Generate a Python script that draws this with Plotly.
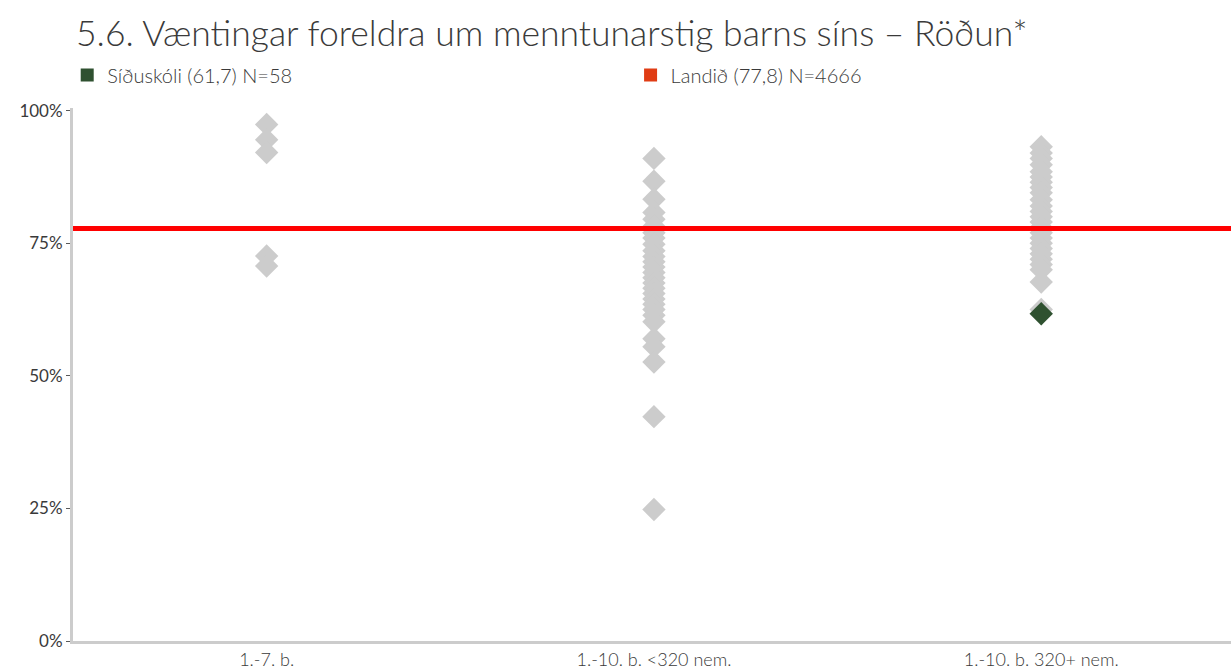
import plotly.graph_objects as go

# ---- data ----
categories = ["1.-7. b.", "1.-10. b. <320 nem.", "1.-10. b. 320+ nem."]

schools_cat1 = [97.4, 94.5, 92.1, 72.6, 70.7]
schools_cat2 = [91.0, 86.7, 83.3, 80.8, 79.5, 78.2, 77.0, 76.0, 74.8, 73.6, 72.5,
                71.5, 70.5, 69.5, 68.5, 67.5, 66.5, 65.5, 64.5, 63.5, 62.5, 61.4,
                60.2, 57.0, 55.5, 52.6, 42.3, 24.8]
schools_cat3 = [93.2, 92.0, 91.0, 89.8, 88.5, 87.5, 86.5, 85.5, 84.5, 83.2, 82.0,
                81.0, 80.0, 79.0, 78.0, 77.0, 76.0, 75.0, 74.0, 73.0, 72.0, 71.0,
                70.0, 67.7, 62.5]

school_name = "Síðuskóli"
school_category = "1.-10. b. 320+ nem."
school_value = 61.7
school_n = 58

national_name = "Landið"
national_value = 77.8
national_n = 4666

title_text = "5.6. Væntingar foreldra um menntunarstig barns síns – Röðun*"
y_ticks = [0, 25, 50, 75, 100]
y_tick_labels = ["0%", "25%", "50%", "75%", "100%"]

# ---- figure ----
FONT = "Lato"
TXT = "#3a3a3a"
GRAY = "#cccccc"
GREEN = "#2f5130"

fig = go.Figure()

for cat, vals in zip(categories, [schools_cat1, schools_cat2, schools_cat3]):
    fig.add_trace(go.Scatter(
        x=[cat] * len(vals), y=vals, mode="markers",
        marker=dict(symbol="diamond", size=18, color=GRAY, line=dict(width=0)),
        showlegend=False, hoverinfo="y",
    ))

fig.add_trace(go.Scatter(
    x=[school_category], y=[school_value], mode="markers",
    marker=dict(symbol="diamond", size=18, color=GREEN, line=dict(width=0)),
    showlegend=False, hoverinfo="y",
))

# legend entries
fig.add_trace(go.Scatter(
    x=[None], y=[None], mode="markers",
    marker=dict(symbol="square", size=13, color=GREEN),
    name=f"{school_name} ({str(school_value).replace('.', ',')}) N={school_n}",
    legend="legend",
))
fig.add_trace(go.Scatter(
    x=[None], y=[None], mode="markers",
    marker=dict(symbol="square", size=13, color="#e03c14"),
    name=f"{national_name} ({str(national_value).replace('.', ',')}) N={national_n}",
    legend="legend2",
))

fig.add_hline(y=national_value, line=dict(color="#ff0000", width=5), layer="above")

legend_common = dict(
    orientation="h", yanchor="middle", xanchor="left",
    font=dict(family=FONT, size=20, color=TXT, weight=300),
    bgcolor="rgba(0,0,0,0)", borderwidth=0, itemclick=False,
)

fig.update_layout(
    width=1231, height=671,
    margin=dict(l=73, r=0, t=108, b=30, autoexpand=False),
    paper_bgcolor="white", plot_bgcolor="white",
    title=dict(text=title_text, x=76 / 1231, xanchor="left", y=1 - 34 / 671,
               yanchor="middle",
               font=dict(family=FONT, size=35.5, color=TXT, weight=300)),
    legend=dict(x=-0.005, y=1.062, **legend_common),
    legend2=dict(x=0.4815, y=1.062, **legend_common),
    xaxis=dict(
        type="category", categoryorder="array", categoryarray=categories,
        range=[-0.5, 2.49], showgrid=False, zeroline=False,
        showline=True, linecolor=GRAY, linewidth=3, ticks="",
        tickfont=dict(family=FONT, size=18, color=TXT, weight=300),
    ),
    yaxis=dict(
        range=[0, 100.5], tickmode="array", tickvals=y_ticks, ticktext=y_tick_labels,
        showgrid=False, zeroline=False,
        showline=True, linecolor=GRAY, linewidth=3,
        ticks="outside", ticklen=4, tickwidth=1, tickcolor="#595959",
        tickfont=dict(family=FONT, size=17, color=TXT),
    ),
)

fig.write_html("out.html", config={"displayModeBar": False},
               post_script="document.body.style.margin='0';")
